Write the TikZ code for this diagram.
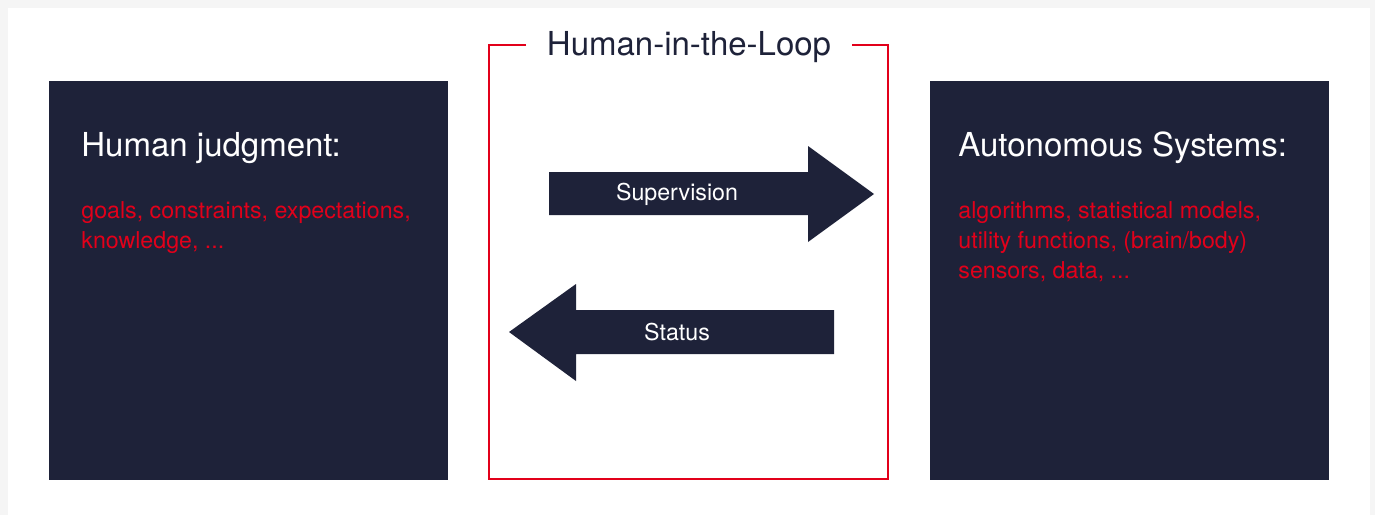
\documentclass[tikz,border=0pt]{standalone}
\usepackage{fontspec}
\setmainfont{TeX Gyre Heros}
\usetikzlibrary{positioning}
\definecolor{navy}{HTML}{1E2239}
\definecolor{hilred}{HTML}{E2001A}
\definecolor{pagegrey}{HTML}{F5F5F5}

\begin{document}
\begin{tikzpicture}[x=0.5pt,y=-0.5pt,
  panel/.style={fill=navy},
  title node/.style={anchor=base west,inner sep=0,text=white,font=\fontsize{16.5}{20}\selectfont},
  list node/.style={anchor=north west,inner sep=0,text=hilred,align=left,font=\fontsize{11.6}{15}\selectfont},
  label node/.style={anchor=base,inner sep=0,text=white,font=\fontsize{11.6}{14}\selectfont}]

	% page
	\fill[pagegrey] (0,0) rectangle (1375,515);
	\fill[white] (8,8) rectangle (1370,515);

	% the two panels
	\fill[panel] (49,81) rectangle (448,480);
	\fill[panel] (930,81) rectangle (1329,480);

	\node[title node] (human) at (81,156) {Human judgment:};
	\node[list node] (humanlist) at (81,201) {goals, constraints, expectations,\\knowledge, ...};

	\node[title node] (auto) at (958,156) {Autonomous Systems:};
	\node[list node] (autolist) at (958,201) {algorithms, statistical models,\\utility functions, (brain/body)\\sensors, data, ...};

	% loop frame
	\node[anchor=base,inner sep=0,text=navy,font=\fontsize{16.5}{20}\selectfont] (loop) at (689,55) {Human-in-the-Loop};
	\draw[hilred,line width=1pt] (526,45) -- (489,45) -- (489,479) -- (888,479) -- (888,45) -- (852,45);

	% block arrows
	\fill[navy] (549,172) -- (808,172) -- (808,146) -- (874,194) -- (808,242) -- (808,215) -- (549,215) -- cycle;
	\node[label node] (sup) at (677,200.7) {Supervision};

	\fill[navy] (834,310) -- (576,310) -- (576,284) -- (509,332) -- (576,381) -- (576,354) -- (834,354) -- cycle;
	\node[label node] (stat) at (677,340) {Status};

\end{tikzpicture}
\end{document}
